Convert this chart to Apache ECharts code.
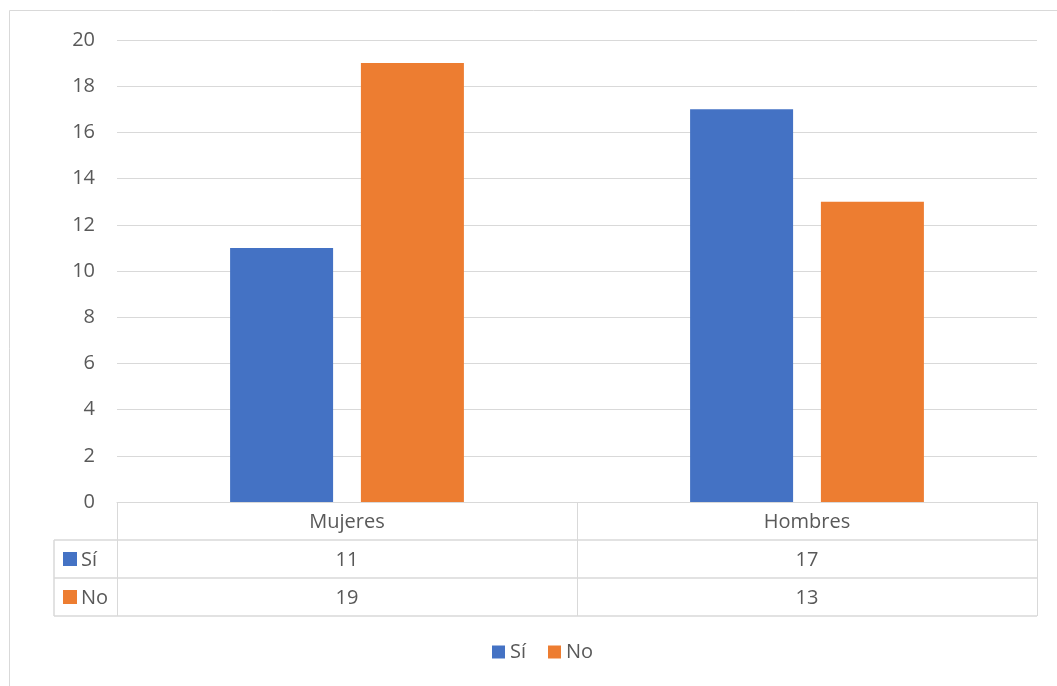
<!DOCTYPE html>
<html><head><meta charset="utf-8">
<script src="https://cdn.jsdelivr.net/npm/echarts@6/dist/echarts.min.js"></script>
<style>html,body{margin:0;padding:0;background:#fff}#c{width:1057px;height:686px}</style>
</head><body><div id="c"></div>
<script>
const categories = ['Mujeres', 'Hombres'];
const seriesNames = ['Sí', 'No'];
const siValues = [11, 17];
const noValues = [19, 13];
const yTicks = [0, 2, 4, 6, 8, 10, 12, 14, 16, 18, 20];

const FONT = '"Open Sans"';
const FS = 20;
const TXT = '#595959';
const LINE = '#d9d9d9';
const BLUE = '#4472C4';
const ORANGE = '#ED7D31';

const chart = echarts.init(document.getElementById('c'), null, {renderer: 'canvas'});
const G = {left: 117, right: 20, top: 40, bottom: 184};
const rowH = 38;
const tableTop = 686 - G.bottom;

const option = {
  animation: false,
  textStyle: {fontFamily: FONT},
  grid: G,
  legend: {
    data: seriesNames, top: 637, left: 487, itemWidth: 13, itemHeight: 13, itemGap: 22,
    icon: 'rect', textStyle: {color: TXT, fontSize: FS, fontFamily: FONT}
  },
  xAxis: {
    type: 'category', data: categories,
    axisLine: {show: true, lineStyle: {color: LINE, width: 1}},
    axisTick: {show: true, length: 114, lineStyle: {color: LINE}},
    axisLabel: {
      margin: 1, verticalAlign: 'top', interval: 0,
      formatter: (v, i) => '{a|' + v + '}\n{a|' + siValues[i] + '}\n{a|' + noValues[i] + '}',
      rich: {a: {color: TXT, fontSize: FS, fontFamily: FONT, lineHeight: rowH, height: rowH}}
    }
  },
  yAxis: {
    type: 'value', min: yTicks[0], max: yTicks[yTicks.length - 1], interval: 2,
    axisLine: {show: false}, axisTick: {show: false},
    axisLabel: {color: TXT, fontSize: FS, fontFamily: FONT, margin: 22},
    splitLine: {lineStyle: {color: LINE, width: 1}}
  },
  series: [
    {name: seriesNames[0], type: 'bar', data: siValues, itemStyle: {color: BLUE}, barWidth: 103, barGap: '27%'},
    {name: seriesNames[1], type: 'bar', data: noValues, itemStyle: {color: ORANGE}, barWidth: 103}
  ],
  graphic: [
    {type: 'rect', shape: {x: 9.5, y: 10.5, width: 1200, height: 1000}, style: {fill: null, stroke: LINE, lineWidth: 1}, silent: true},
    {type: 'line', shape: {x1: 54, y1: tableTop + rowH, x2: 1037, y2: tableTop + rowH}, style: {stroke: LINE, lineWidth: 1.5}},
    {type: 'line', shape: {x1: 54, y1: tableTop + 2 * rowH, x2: 1037, y2: tableTop + 2 * rowH}, style: {stroke: LINE, lineWidth: 1.5}},
    {type: 'line', shape: {x1: 54, y1: tableTop + 3 * rowH, x2: 1037, y2: tableTop + 3 * rowH}, style: {stroke: LINE, lineWidth: 1.5}},
    {type: 'line', shape: {x1: 54, y1: tableTop + rowH, x2: 54, y2: tableTop + 3 * rowH}, style: {stroke: LINE, lineWidth: 1.5}},
    {type: 'rect', shape: {x: 63, y: tableTop + rowH + 12, width: 14, height: 14}, style: {fill: BLUE}},
    {type: 'text', x: 81, y: tableTop + rowH + 20, style: {text: seriesNames[0], fill: TXT, font: FS + 'px ' + FONT, verticalAlign: 'middle'}},
    {type: 'rect', shape: {x: 63, y: tableTop + 2 * rowH + 12, width: 14, height: 14}, style: {fill: ORANGE}},
    {type: 'text', x: 81, y: tableTop + 2 * rowH + 20, style: {text: seriesNames[1], fill: TXT, font: FS + 'px ' + FONT, verticalAlign: 'middle'}}
  ]
};
chart.setOption(option);
</script></body></html>
